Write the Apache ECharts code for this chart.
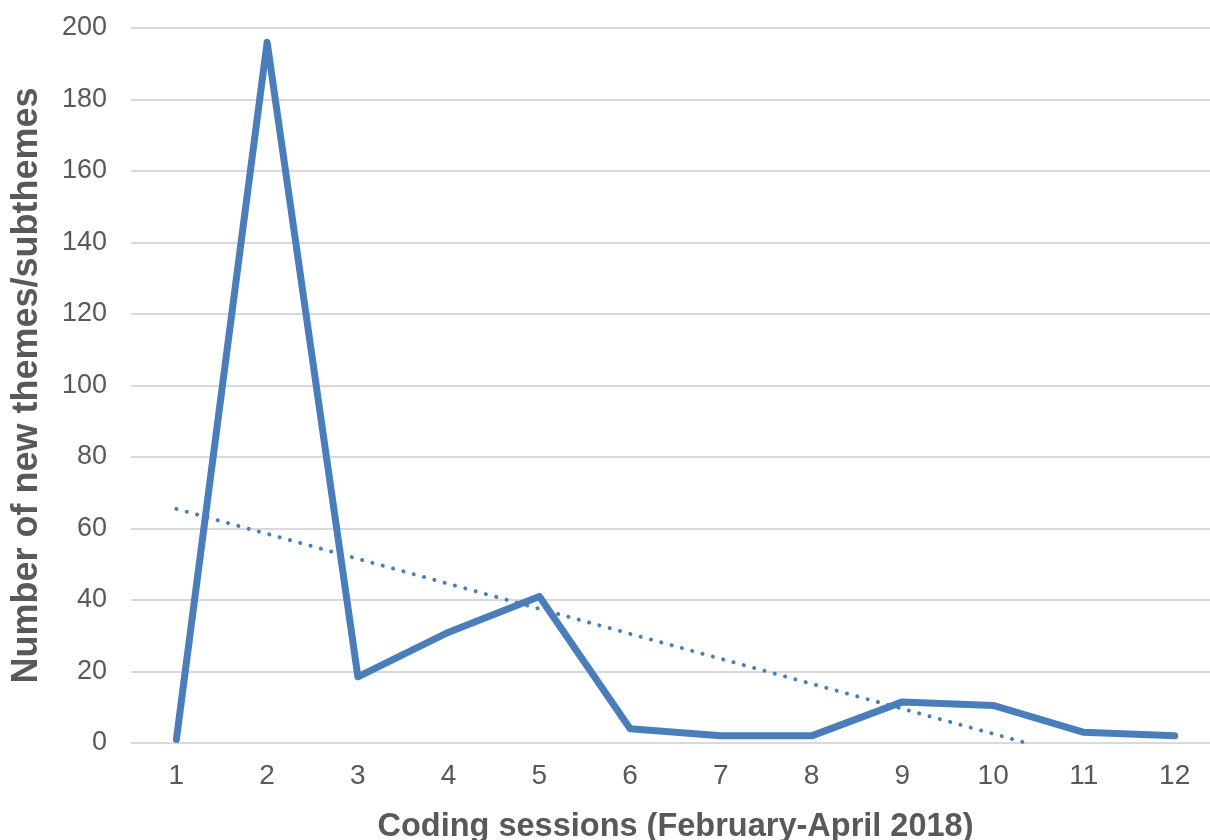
<!DOCTYPE html>
<html>
<head>
<meta charset="utf-8">
<script src="https://cdn.jsdelivr.net/npm/echarts@6/dist/echarts.min.js"></script>
<style>html,body{margin:0;padding:0;background:#fff;}#c{width:1210px;height:840px;}</style>
</head>
<body>
<div id="c"></div>
<script>
const categories = ['1','2','3','4','5','6','7','8','9','10','11','12'];
const newThemes = [1, 196, 18.5, 31, 41, 4, 2, 2, 11.5, 10.5, 3, 2];
const trendX = [1, 10.37];
const trendY = [65.5, 0];
const xTitle = 'Coding sessions (February-April 2018)';
const yTitle = 'Number of new themes/subthemes';

const chart = echarts.init(document.getElementById('c'));
const font = 'Liberation Sans, Arial, sans-serif';
chart.setOption({
  animation: false,
  grid: { left: 131, width: 1089, top: 28, height: 715, containLabel: false, outerBoundsMode: 'none' },
  xAxis: [{
    type: 'category',
    data: categories,
    boundaryGap: true,
    axisLine: { show: false },
    axisTick: { show: false },
    axisLabel: { color: '#595959', fontSize: 28, fontFamily: font, margin: 19 },
    name: xTitle,
    nameLocation: 'middle',
    nameGap: 68,
    nameTextStyle: { color: '#595959', fontSize: 32.5, fontWeight: 'bold', fontFamily: font },
  }, {
    type: 'value',
    min: 0.5, max: 12.5,
    show: false
  }],
  yAxis: {
    type: 'value',
    min: 0, max: 200, interval: 20,
    axisLine: { show: false },
    axisTick: { show: false },
    axisLabel: { color: '#595959', fontSize: 27, fontFamily: font, margin: 24 },
    splitLine: { lineStyle: { color: '#d9d9d9', width: 2 } },
    name: yTitle,
    nameLocation: 'middle',
    nameGap: 86,
    nameTextStyle: { color: '#595959', fontSize: 36, fontWeight: 'bold', fontFamily: font },
  },
  series: [{
    type: 'line',
    data: newThemes,
    xAxisIndex: 0,
    symbol: 'none',
    lineStyle: { color: '#4a7ebb', width: 7, cap: 'round', join: 'round' },
    itemStyle: { color: '#4a7ebb' }
  }, {
    type: 'line',
    xAxisIndex: 1,
    data: trendX.map((x, i) => [x, trendY[i]]),
    symbol: 'none',
    lineStyle: { color: '#4a7ebb', width: 4, type: [0.1, 10.6], cap: 'round' }
  }]
});
</script>
</body>
</html>
